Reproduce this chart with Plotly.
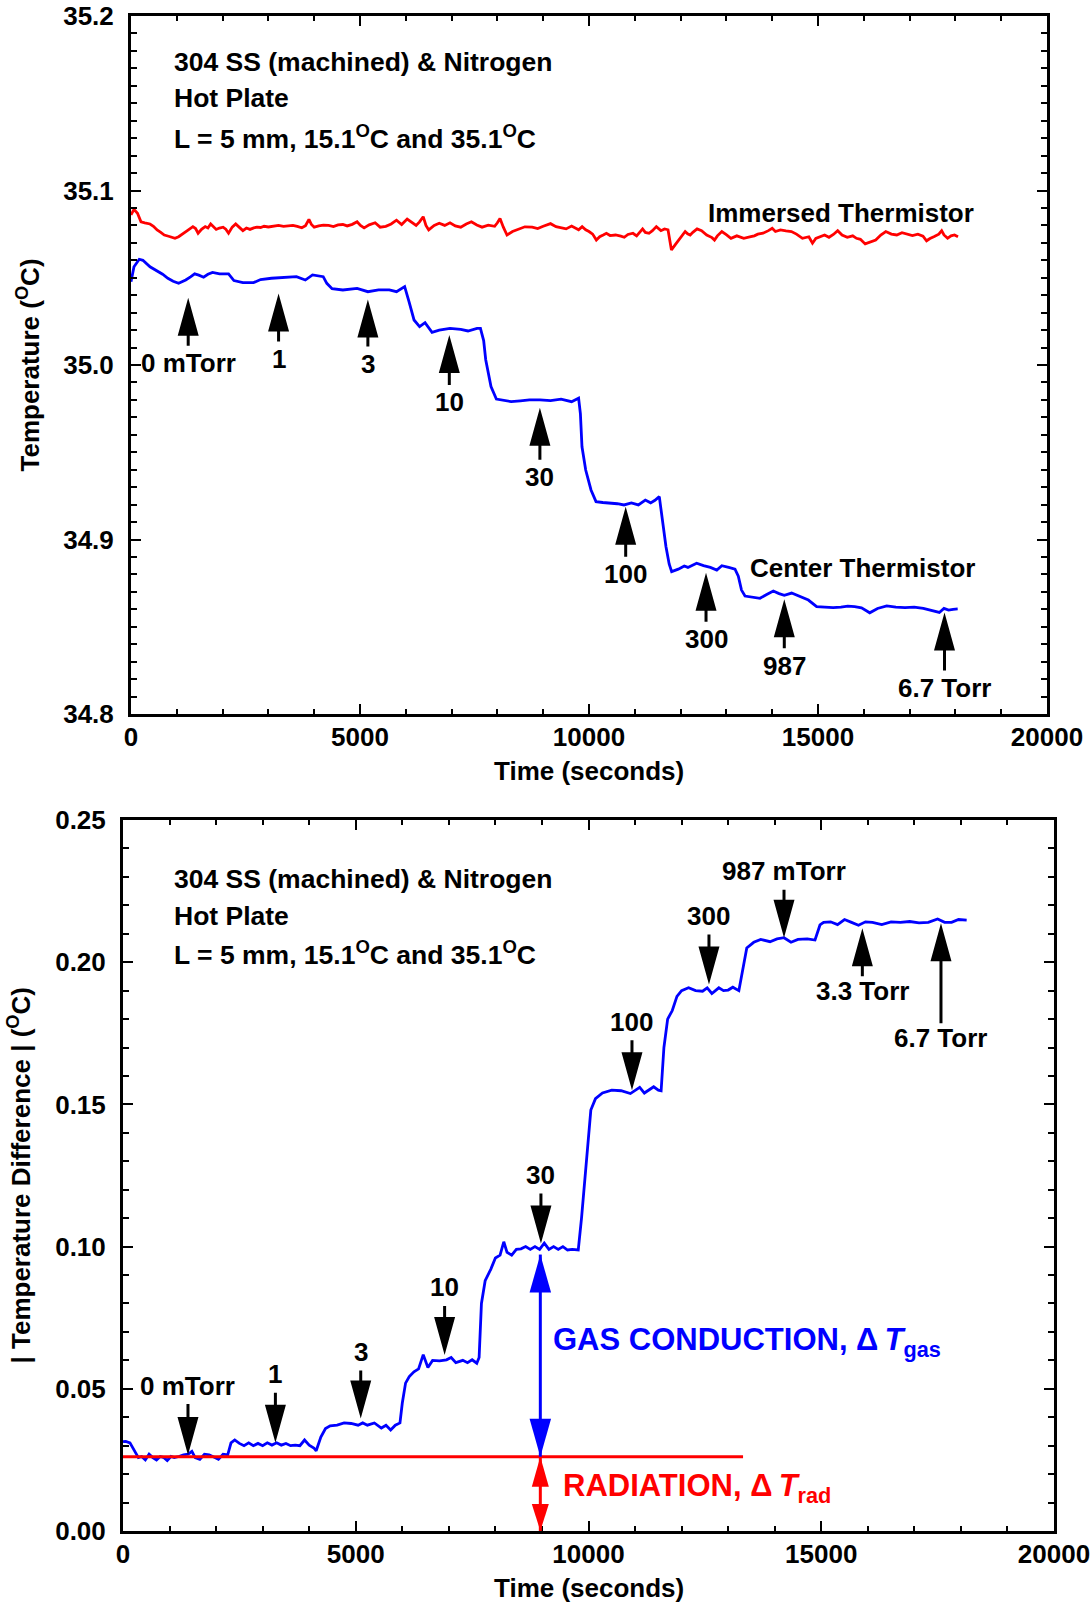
import plotly.graph_objects as go

# ------------------------------------------------------------------ data
# Top panel: Immersed thermistor (red)
imm_t = [0, 65, 142, 218, 300, 415, 490, 570, 650, 727, 820, 960, 1040, 1115, 1230, 1351, 1410, 1465,
         1540, 1620, 1680, 1740, 1800, 1860, 1930, 2010, 2070, 2130, 2210, 2286, 2360, 2443, 2520, 2598,
         2680, 2750, 2830, 2906, 3000, 3100, 3222, 3330, 3430, 3535, 3630, 3729, 3810, 3885, 3940, 4000,
         4100, 4200, 4314, 4420, 4520, 4626, 4720, 4830, 4937, 5010, 5090, 5200, 5330, 5440, 5563, 5680,
         5797, 5910, 6030, 6130, 6225, 6300, 6380, 6440, 6500, 6620, 6730, 6850, 6965, 7080, 7200, 7320,
         7433, 7550, 7665, 7800, 7940, 8000, 8057, 8130, 8210, 8330, 8450, 8600, 8760, 8880, 9000, 9160,
         9280, 9390, 9500, 9620, 9773, 9850, 9928, 10000, 10080, 10160, 10234, 10310, 10380, 10460, 10580,
         10695, 10770, 10850, 10960, 11040, 11113, 11170, 11230, 11310, 11385, 11470, 11570, 11650, 11725,
         11800, 11884, 11960, 12037, 12100, 12153, 12210, 12267, 12360, 12458, 12570, 12685, 12740, 12803,
         12900, 12990, 13100, 13227, 13380, 13533, 13610, 13686, 13800, 13917, 14000, 14070, 14180, 14300,
         14420, 14530, 14660, 14800, 14880, 14952, 15050, 15144, 15240, 15336, 15430, 15525, 15640, 15758,
         15840, 15926, 16030, 16141, 16260, 16371, 16480, 16602, 16720, 16834, 16950, 17062, 17180, 17293,
         17370, 17445, 17540, 17638, 17700, 17751, 17830, 17904, 17980, 18057]
imm_v = [35.0860, 35.0892, 35.0870, 35.0821, 35.0815, 35.0808, 35.0795, 35.0774, 35.0760, 35.0745,
         35.0738, 35.0726, 35.0735, 35.0751, 35.0770, 35.0793, 35.0782, 35.0755, 35.0778, 35.0793,
         35.0785, 35.0808, 35.0795, 35.0777, 35.0785, 35.0790, 35.0778, 35.0755, 35.0790, 35.0808,
         35.0790, 35.0770, 35.0785, 35.0777, 35.0786, 35.0790, 35.0788, 35.0795, 35.0791, 35.0797,
         35.0800, 35.0795, 35.0799, 35.0800, 35.0794, 35.0786, 35.0798, 35.0835, 35.0805, 35.0790,
         35.0797, 35.0801, 35.0800, 35.0793, 35.0803, 35.0805, 35.0797, 35.0806, 35.0821, 35.0800,
         35.0786, 35.0803, 35.0815, 35.0790, 35.0795, 35.0808, 35.0830, 35.0805, 35.0836, 35.0815,
         35.0800, 35.0820, 35.0850, 35.0800, 35.0774, 35.0800, 35.0812, 35.0800, 35.0815, 35.0797,
         35.0790, 35.0808, 35.0821, 35.0802, 35.0790, 35.0801, 35.0795, 35.0815, 35.0840, 35.0790,
         35.0745, 35.0765, 35.0777, 35.0792, 35.0790, 35.0782, 35.0795, 35.0810, 35.0793, 35.0785,
         35.0780, 35.0796, 35.0775, 35.0793, 35.0775, 35.0765, 35.0750, 35.0716, 35.0735, 35.0745,
         35.0755, 35.0742, 35.0745, 35.0738, 35.0732, 35.0748, 35.0755, 35.0740, 35.0762, 35.0780,
         35.0760, 35.0755, 35.0770, 35.0793, 35.0770, 35.0780, 35.0775, 35.0659, 35.0690, 35.0716,
         35.0745, 35.0765, 35.0752, 35.0745, 35.0760, 35.0780, 35.0770, 35.0745, 35.0730, 35.0716,
         35.0740, 35.0765, 35.0748, 35.0726, 35.0740, 35.0726, 35.0735, 35.0740, 35.0750, 35.0755,
         35.0770, 35.0783, 35.0765, 35.0774, 35.0768, 35.0765, 35.0750, 35.0726, 35.0735, 35.0698,
         35.0725, 35.0736, 35.0745, 35.0732, 35.0748, 35.0770, 35.0745, 35.0732, 35.0740, 35.0726,
         35.0720, 35.0694, 35.0705, 35.0716, 35.0745, 35.0765, 35.0750, 35.0745, 35.0758, 35.0750,
         35.0742, 35.0750, 35.0738, 35.0712, 35.0725, 35.0736, 35.0750, 35.0770, 35.0745, 35.0726,
         35.0740, 35.0745, 35.0735, 35.0720]

# Top panel: Center thermistor (blue)
cen_t = [0, 65, 180, 260, 415, 570, 690, 805, 920, 1040, 1195, 1300, 1390, 1480, 1585, 1680, 1780, 1935,
         2130, 2247, 2443, 2677, 2830, 3066, 3378, 3612, 3807, 3963, 4197, 4275, 4390, 4626, 4937, 5172,
         5406, 5640, 5797, 5975, 6070, 6180, 6301, 6420, 6573, 6730, 6965, 7200, 7358, 7555, 7630, 7700,
         7745, 7860, 7977, 8100, 8300, 8500, 8700, 8930, 9160, 9390, 9620, 9773, 9812, 9847, 9928, 10044,
         10153, 10300, 10460, 10620, 10765, 10925, 11078, 11230, 11346, 11440, 11535, 11600, 11680, 11750,
         11805, 11950, 12080, 12160, 12350, 12500, 12650, 12790, 12900, 13050, 13188, 13260, 13330, 13406,
         13560, 13733, 13880, 14024, 14150, 14264, 14424, 14600, 14790, 14970, 15150, 15330, 15500, 15650,
         15800, 15950, 16130, 16300, 16500, 16700, 16900, 17100, 17300, 17500, 17650, 17750, 17850, 17950,
         18050]
cen_v = [35.0477, 35.0563, 35.0606, 35.0600, 35.0563, 35.0540, 35.0520, 35.0497, 35.0480, 35.0468,
         35.0487, 35.0505, 35.0522, 35.0515, 35.0503, 35.0520, 35.0531, 35.0522, 35.0522, 35.0484,
         35.0472, 35.0472, 35.0490, 35.0497, 35.0503, 35.0506, 35.0487, 35.0516, 35.0506, 35.0468,
         35.0437, 35.0430, 35.0439, 35.0420, 35.0430, 35.0430, 35.0420, 35.0449, 35.0363, 35.0258,
         35.0220, 35.0243, 35.0187, 35.0200, 35.0210, 35.0204, 35.0195, 35.0210, 35.0210, 35.0140,
         35.0030, 34.9876, 34.9805, 34.9800, 34.9790, 34.9795, 34.9800, 34.9800, 34.9796, 34.9804,
         34.9790, 34.9810, 34.9722, 34.9531, 34.9398, 34.9284, 34.9217, 34.9212, 34.9210, 34.9205,
         34.9198, 34.9210, 34.9198, 34.9226, 34.9210, 34.9225, 34.9246, 34.9120, 34.8960, 34.8860,
         34.8816, 34.8830, 34.8848, 34.8840, 34.8864, 34.8850, 34.8840, 34.8825, 34.8850, 34.8840,
         34.8830, 34.8790, 34.8710, 34.8676, 34.8670, 34.8663, 34.8685, 34.8705, 34.8690, 34.8680,
         34.8693, 34.8675, 34.8653, 34.8615, 34.8612, 34.8610, 34.8612, 34.8618, 34.8615, 34.8608,
         34.8580, 34.8605, 34.8620, 34.8612, 34.8610, 34.8612, 34.8605, 34.8592, 34.8582, 34.8605,
         34.8595, 34.8600, 34.8602]

# Bottom panel: |temperature difference| (blue)
dif_t = [0, 60, 150, 250, 330, 400, 480, 560, 640, 720, 800, 880, 950, 1030, 1100, 1200, 1300, 1400,
         1480, 1550, 1650, 1750, 1850, 1950, 2050, 2150, 2250, 2320, 2400, 2500, 2600, 2700, 2800, 2900,
         3000, 3100, 3200, 3300, 3400, 3500, 3600, 3700, 3800, 3900, 4000, 4100, 4150, 4250, 4350, 4450,
         4600, 4750, 4900, 5050, 5150, 5250, 5400, 5550, 5650, 5750, 5850, 5950, 6000, 6070, 6150, 6250,
         6350, 6450, 6550, 6650, 6800, 6950, 7050, 7150, 7300, 7400, 7500, 7600, 7650, 7700, 7780, 7900,
         8000, 8100, 8180, 8250, 8350, 8450, 8550, 8650, 8750, 8850, 8950, 9050, 9150, 9250, 9350, 9450,
         9550, 9650, 9780, 9850, 9950, 10050, 10150, 10300, 10500, 10700, 10900, 11000, 11100, 11200,
         11300, 11400, 11500, 11560, 11620, 11700, 11800, 11900, 12000, 12150, 12300, 12450, 12550, 12650,
         12800, 12900, 13000, 13100, 13230, 13300, 13400, 13550, 13700, 13900, 14050, 14200, 14350, 14500,
         14700, 14866, 14973, 15050, 15200, 15350, 15500, 15650, 15800, 15950, 16100, 16300, 16500, 16700,
         16900, 17100, 17300, 17500, 17650, 17800, 17950, 18124]
dif_v = [0.0314, 0.0315, 0.0310, 0.0280, 0.0258, 0.0262, 0.0250, 0.0270, 0.0258, 0.0250, 0.0262, 0.0258,
         0.0248, 0.0262, 0.0258, 0.0262, 0.0268, 0.0270, 0.0280, 0.0258, 0.0252, 0.0270, 0.0268, 0.0260,
         0.0252, 0.0270, 0.0268, 0.0310, 0.0320, 0.0308, 0.0300, 0.0310, 0.0300, 0.0308, 0.0300, 0.0310,
         0.0302, 0.0310, 0.0302, 0.0308, 0.0300, 0.0302, 0.0300, 0.0320, 0.0302, 0.0292, 0.0282, 0.0330,
         0.0360, 0.0370, 0.0372, 0.0380, 0.0378, 0.0372, 0.0380, 0.0372, 0.0380, 0.0362, 0.0372, 0.0355,
         0.0372, 0.0380, 0.0450, 0.0520, 0.0543, 0.0560, 0.0570, 0.0620, 0.0575, 0.0600, 0.0598, 0.0602,
         0.0610, 0.0592, 0.0600, 0.0592, 0.0602, 0.0590, 0.0610, 0.0800, 0.0880, 0.0920, 0.0960, 0.0970,
         0.1017, 0.0980, 0.0970, 0.0990, 0.0992, 0.1000, 0.0990, 0.1000, 0.0990, 0.1012, 0.0990, 0.1000,
         0.0990, 0.1000, 0.0988, 0.0990, 0.0988, 0.1100, 0.1300, 0.1480, 0.1520, 0.1540, 0.1550, 0.1548,
         0.1538, 0.1550, 0.1560, 0.1540, 0.1552, 0.1562, 0.1550, 0.1548, 0.1700, 0.1800, 0.1830, 0.1880,
         0.1900, 0.1910, 0.1900, 0.1898, 0.1910, 0.1890, 0.1910, 0.1900, 0.1902, 0.1912, 0.1900, 0.1960,
         0.2050, 0.2070, 0.2080, 0.2072, 0.2082, 0.2086, 0.2070, 0.2080, 0.2082, 0.2078, 0.2131, 0.2140,
         0.2142, 0.2132, 0.2150, 0.2140, 0.2130, 0.2142, 0.2140, 0.2132, 0.2142, 0.2140, 0.2143, 0.2138,
         0.2140, 0.2152, 0.2140, 0.2140, 0.2150, 0.2148]

# Radiation baseline
rad_t = [0, 13320]
rad_v = [0.0261, 0.0261]

# Pressure arrows, top panel (arrow points up to the curve, label below)
top_arr_t = [1249, 3222, 5172, 6950, 8928, 10801, 12555, 14264, 17762]
top_arr_v = [35.0386, 35.0410, 35.0376, 35.0172, 34.9755, 34.9188, 34.8810, 34.8657, 34.8581]
top_arr_len = [48, 48, 47, 50, 52, 50, 49, 49, 58]
top_arr_lbl = ["0 mTorr", "1", "3", "10", "30", "100", "300", "987", "6.7 Torr"]

# Pressure arrows, bottom panel
bot_arr_t = [1396, 3274, 5107, 6909, 8978, 10934, 12588, 14200, 15883, 17572]
bot_arr_v = [0.0267, 0.0310, 0.0396, 0.0619, 0.1011, 0.1550, 0.1922, 0.2086, 0.2119, 0.2137]
bot_arr_dir = ["down"] * 8 + ["up"] * 2
bot_arr_len = [51, 50, 48, 49, 50, 50, 50, 48, 48, 100]
bot_arr_lbl = ["0 mTorr", "1", "3", "10", "30", "100", "300", "987 mTorr", "3.3 Torr", "6.7 Torr"]

# Gas / radiation double arrows
split_t = 8965
gas_v = [0.0261, 0.0972]
rad_arrow_v = [0.0, 0.0261]

header_lines = ["304 SS (machined) &amp; Nitrogen", "Hot Plate",
                "L = 5 mm, 15.1<sup>O</sup>C and 35.1<sup>O</sup>C"]

# ------------------------------------------------------------------ style
FONT = "Liberation Sans, Arial, sans-serif"
FS = 26
W, H = 1091, 1606
top_px = dict(l=131, r=1047, t=16, b=714)
bot_px = dict(l=123, r=1054, t=820, b=1531)


def dom(px):
    return [px["l"] / W, px["r"] / W], [1 - px["b"] / H, 1 - px["t"] / H]


fig = go.Figure()
fig.add_trace(go.Scatter(x=imm_t, y=imm_v, mode="lines", line=dict(color="#ff0000", width=2.8),
                         xaxis="x", yaxis="y", showlegend=False))
fig.add_trace(go.Scatter(x=cen_t, y=cen_v, mode="lines", line=dict(color="#0000ff", width=2.8),
                         xaxis="x", yaxis="y", showlegend=False))
fig.add_trace(go.Scatter(x=dif_t, y=dif_v, mode="lines", line=dict(color="#0000ff", width=2.8),
                         xaxis="x2", yaxis="y2", showlegend=False))
fig.add_trace(go.Scatter(x=rad_t, y=rad_v, mode="lines", line=dict(color="#ff0000", width=2.8),
                         xaxis="x2", yaxis="y2", showlegend=False))

tickfont = dict(family=FONT, size=FS, color="black", weight="bold")
common = dict(showline=True, linewidth=3, linecolor="black", mirror="allticks", ticks="inside",
              ticklen=10, tickwidth=2, tickcolor="black", showgrid=False, zeroline=False,
              tickfont=tickfont, automargin=False)
minor_x = dict(dtick=1000, ticks="inside", ticklen=5, tickwidth=2, tickcolor="black", showgrid=False)
minor_y = dict(ticks="inside", ticklen=6, tickwidth=2, tickcolor="black", showgrid=False)

xd1, yd1 = dom(top_px)
xd2, yd2 = dom(bot_px)
fig.update_layout(
    width=W, height=H, margin=dict(l=0, r=0, t=0, b=0, autoexpand=False),
    paper_bgcolor="white", plot_bgcolor="white",
    xaxis=dict(domain=xd1, anchor="y", range=[0, 20000], tick0=0, dtick=5000, tickformat="d",
               minor=minor_x, ticklabelstandoff=-2, **common),
    yaxis=dict(domain=yd1, anchor="x", range=[34.8, 35.2], tick0=34.8, dtick=0.1, tickformat=".1f",
               minor=dict(dtick=0.01, **minor_y), ticklabelstandoff=9, **common),
    xaxis2=dict(domain=xd2, anchor="y2", range=[0, 20000], tick0=0, dtick=5000, tickformat="d",
                minor=minor_x, ticklabelstandoff=-2, **common),
    yaxis2=dict(domain=yd2, anchor="x2", range=[0, 0.25], tick0=0, dtick=0.05, tickformat=".2f",
                minor=dict(dtick=0.01, **minor_y), ticklabelstandoff=9, **common),
)

shapes = []
annos = []
afont = dict(family=FONT, size=FS, color="black", weight="bold")


def arrow_path(direction, length, head, width, stem):
    d = -1 if direction == "up" else 1
    hw, sw = width / 2, stem / 2
    p = f"M 0,0 L {-hw},{d * head} L {hw},{d * head} Z "
    if length > head:
        p += f"M {-sw},{d * head} L {-sw},{d * length} L {sw},{d * length} L {sw},{d * head} Z"
    return p


def add_arrow(xr, yr, x, y, direction, length, head=38, width=21, stem=3, color="black"):
    shapes.append(dict(type="path", xref=xr, yref=yr, xsizemode="pixel", ysizemode="pixel",
                       xanchor=x, yanchor=y, path=arrow_path(direction, length, head, width, stem),
                       fillcolor=color, line=dict(color="rgba(0,0,0,0)", width=0), layer="above"))


# top panel arrows & labels
for t, v, L, lbl in zip(top_arr_t, top_arr_v, top_arr_len, top_arr_lbl):
    add_arrow("x", "y", t, v, "up", L)
    annos.append(dict(x=t, y=v, xref="x", yref="y", text=lbl, showarrow=False, font=afont,
                      xanchor="center", yanchor="middle", yshift=-(L + 17.5)))

# bottom panel arrows & labels
for t, v, d, L, lbl in zip(bot_arr_t, bot_arr_v, bot_arr_dir, bot_arr_len, bot_arr_lbl):
    add_arrow("x2", "y2", t, v, d, L)
    off = (L + 18.5) if d == "down" else -(L + 14.5)
    annos.append(dict(x=t, y=v, xref="x2", yref="y2", text=lbl, showarrow=False, font=afont,
                      xanchor="center", yanchor="middle", yshift=off))

# gas conduction double arrow (blue)
shapes.append(dict(type="line", xref="x2", yref="y2", x0=split_t, x1=split_t, y0=gas_v[0], y1=gas_v[1],
                   line=dict(color="#0000ff", width=3)))
add_arrow("x2", "y2", split_t, gas_v[1], "up", 38, head=38, width=21.5, color="#0000ff")
add_arrow("x2", "y2", split_t, gas_v[0], "down", 38, head=38, width=21.5, color="#0000ff")
# radiation double arrow (red)
shapes.append(dict(type="line", xref="x2", yref="y2", x0=split_t, x1=split_t, y0=rad_arrow_v[0],
                   y1=rad_arrow_v[1], line=dict(color="#ff0000", width=3)))
add_arrow("x2", "y2", split_t, rad_arrow_v[1], "up", 30, head=30, width=17, color="#ff0000")
add_arrow("x2", "y2", split_t, rad_arrow_v[0], "down", 27, head=27, width=17, color="#ff0000")

# header text blocks
hfont = dict(family=FONT, size=26.5, color="black", weight="bold")
for i, line in enumerate(header_lines):
    annos.append(dict(x=(172 - top_px["l"]) / (top_px["r"] - top_px["l"]), y=[0.9346, 0.8821, 0.8270][i],
                      xref="x domain", yref="y domain", text=line, showarrow=False, font=hfont,
                      xanchor="left", yanchor="middle"))
    annos.append(dict(x=(172 - bot_px["l"]) / (bot_px["r"] - bot_px["l"]), y=[0.9170, 0.8653, 0.8134][i],
                      xref="x2 domain", yref="y2 domain", text=line, showarrow=False, font=hfont,
                      xanchor="left", yanchor="middle"))

# curve labels
annos.append(dict(x=18450, y=35.0871, xref="x", yref="y", text="Immersed Thermistor", showarrow=False,
                  font=afont, xanchor="right", yanchor="middle"))
annos.append(dict(x=18472, y=34.8837, xref="x", yref="y", text="Center Thermistor", showarrow=False,
                  font=afont, xanchor="right", yanchor="middle"))

# gas / radiation labels
annos.append(dict(x=9194, y=0.0666, xref="x2", yref="y2",
                  text="GAS CONDUCTION, Δ\u2009<i>T</i><sub>gas</sub>", showarrow=False,
                  font=dict(family=FONT, size=31, color="#0000ff", weight="bold"),
                  xanchor="left", yanchor="middle"))
annos.append(dict(x=9410, y=0.0151, xref="x2", yref="y2",
                  text="RADIATION, Δ\u2009<i>T</i><sub>rad</sub>", showarrow=False,
                  font=dict(family=FONT, size=31, color="#ff0000", weight="bold"),
                  xanchor="left", yanchor="middle"))

# axis titles
annos.append(dict(x=28.5 / W, y=1 - 365 / H, xref="paper", yref="paper", text="Temperature (<sup>O</sup>C)",
                  textangle=-90, showarrow=False, font=afont, xanchor="center", yanchor="middle"))
annos.append(dict(x=20 / W, y=1 - 1175.5 / H, xref="paper", yref="paper",
                  text="| Temperature Difference | (<sup>O</sup>C)",
                  textangle=-90, showarrow=False, font=afont, xanchor="center", yanchor="middle"))
annos.append(dict(x=589 / W, y=1 - 771 / H, xref="paper", yref="paper", text="Time (seconds)",
                  showarrow=False, font=afont, xanchor="center", yanchor="middle"))
annos.append(dict(x=588.5 / W, y=1 - 1588 / H, xref="paper", yref="paper", text="Time (seconds)",
                  showarrow=False, font=afont, xanchor="center", yanchor="middle"))

fig.update_layout(shapes=shapes, annotations=annos)
fig.write_html("out.html", config={"displayModeBar": False},
               post_script="document.body.style.margin='0px';"
                           "document.body.style.overflow='hidden';")
